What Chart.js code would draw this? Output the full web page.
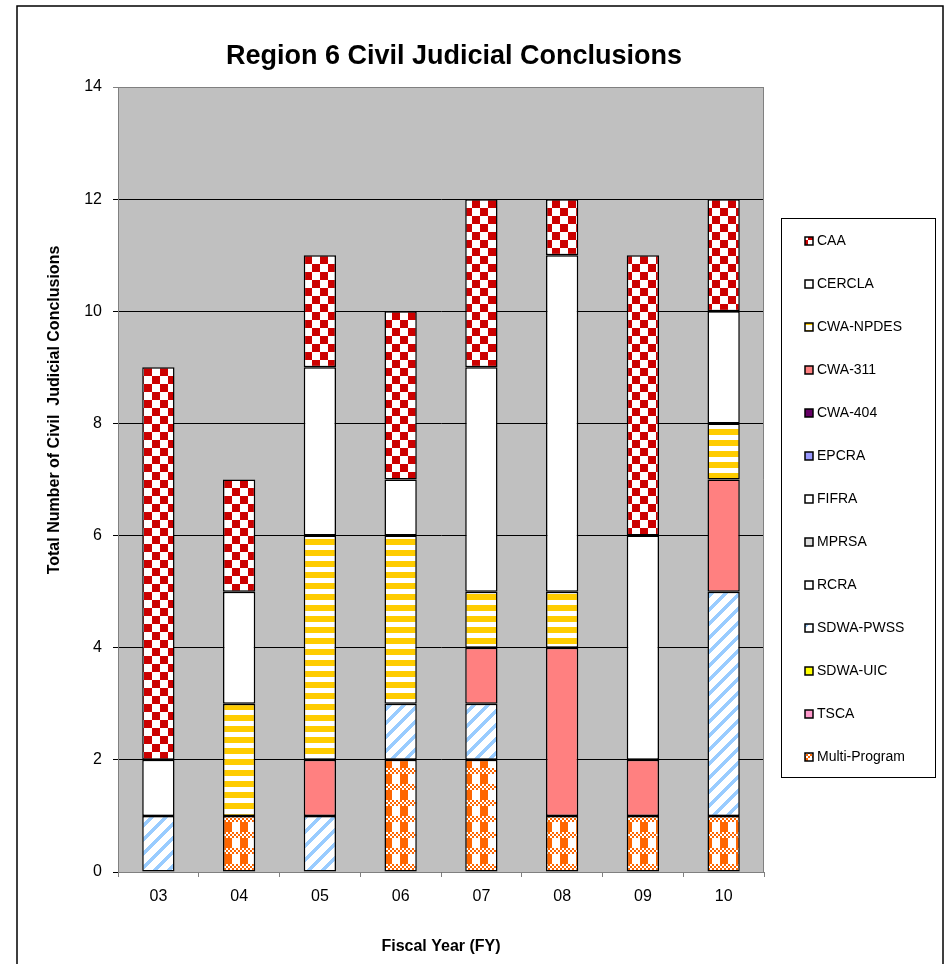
<!DOCTYPE html>
<html>
<head>
<meta charset="utf-8">
<title>Region 6 Civil Judicial Conclusions</title>
<script src="https://cdn.jsdelivr.net/npm/chart.js"></script>
<style>
  body { margin: 0; background: #fff; overflow: hidden; }
  #wrap { position: relative; width: 948px; height: 964px; }
</style>
</head>
<body>
<div id="wrap"><canvas id="civilChart"></canvas></div>
<script>
// fiscal years on the x axis
const years = ["03", "04", "05", "06", "07", "08", "09", "10"];

// counts per program, bottom of the stack first
const multiProgram = [0, 1, 0, 2, 2, 1, 1, 1];
const tsca = [0, 0, 0, 0, 0, 0, 0, 0];
const sdwaUic = [0, 0, 0, 0, 0, 0, 0, 0];
const sdwaPwss = [1, 0, 1, 1, 1, 0, 0, 4];
const rcra = [0, 0, 0, 0, 0, 0, 0, 0];
const mprsa = [0, 0, 0, 0, 0, 0, 0, 0];
const fifra = [0, 0, 0, 0, 0, 0, 0, 0];
const epcra = [0, 0, 0, 0, 0, 0, 0, 0];
const cwa404 = [0, 0, 0, 0, 0, 0, 0, 0];
const cwa311 = [0, 0, 1, 0, 1, 3, 1, 2];
const cwaNpdes = [0, 2, 4, 3, 1, 1, 0, 1];
const cercla = [1, 2, 3, 1, 4, 6, 4, 2];
const caa = [7, 2, 2, 3, 3, 1, 5, 2];

const yTicks = [0, 2, 4, 6, 8, 10, 12, 14];

const FONT = '"Liberation Sans", Arial, sans-serif';
Chart.defaults.font.family = FONT;
Chart.defaults.color = "#000";

const canvas = document.getElementById("civilChart");
const ctx = canvas.getContext("2d");

// small tiles for the excel style fill patterns
function tile(w, h, paint) {
  const c = document.createElement("canvas");
  c.width = w;
  c.height = h;
  const t = c.getContext("2d");
  t.fillStyle = "#fff";
  t.fillRect(0, 0, w, h);
  paint(t);
  return ctx.createPattern(c, "repeat");
}

const checkRed = tile(16, 16, (t) => {
  t.fillStyle = "#CC0000";
  t.fillRect(0, 0, 8, 8);
  t.fillRect(8, 8, 8, 8);
});

const plaidOrange = tile(16, 16, (t) => {
  t.fillStyle = "#FF6600";
  for (let y = 0; y < 6; y += 2) {
    for (let x = 0; x < 16; x += 2) {
      if (((x + y) / 2) % 2 === 0) t.fillRect(x, y, 2, 2);
    }
  }
  t.fillRect(0, 6, 8, 10);
});

const diagBlue = tile(14, 14, (t) => {
  t.fillStyle = "#99CCFF";
  for (let y = 0; y < 14; y++) {
    for (let x = 0; x < 14; x++) {
      if ((x + y) % 14 < 5) t.fillRect(x, y, 1, 1);
    }
  }
});

const stripeYellow = tile(4, 11, (t) => {
  t.fillStyle = "#FFCC00";
  t.fillRect(0, 0, 4, 6);
});

const series = [
  ["Multi-Program", multiProgram, plaidOrange],
  ["TSCA", tsca, "#FF99CC"],
  ["SDWA-UIC", sdwaUic, "#FFFF00"],
  ["SDWA-PWSS", sdwaPwss, diagBlue],
  ["RCRA", rcra, "#FFFFFF"],
  ["MPRSA", mprsa, "#DDDDDD"],
  ["FIFRA", fifra, "#FFFFFF"],
  ["EPCRA", epcra, "#9999FF"],
  ["CWA-404", cwa404, "#660066"],
  ["CWA-311", cwa311, "#FF8080"],
  ["CWA-NPDES", cwaNpdes, stripeYellow],
  ["CERCLA", cercla, "#FFFFFF"],
  ["CAA", caa, checkRed],
];

const datasets = series.map(([label, data, fill]) => ({
  label: label,
  data: data,
  backgroundColor: fill,
  borderColor: "#000",
  borderWidth: 1.5,
  borderSkipped: false,
  barPercentage: 0.4,
  categoryPercentage: 1,
}));

// page frame, plot background, titles and boxed legend
const frame = {
  id: "frame",
  beforeDraw(chart) {
    const c = chart.ctx;
    const a = chart.chartArea;
    c.save();
    c.fillStyle = "#fff";
    c.fillRect(0, 0, chart.width, chart.height);
    c.fillStyle = "#C0C0C0";
    c.fillRect(a.left, a.top, a.right - a.left, a.bottom - a.top);
    c.restore();
  },
  beforeDatasetsDraw(chart) {
    const c = chart.ctx;
    const a = chart.chartArea;
    c.save();
    c.strokeStyle = "#808080";
    c.lineWidth = 1;
    c.beginPath();
    c.moveTo(a.left, a.top + 0.5);
    c.lineTo(a.right - 0.5, a.top + 0.5);
    c.lineTo(a.right - 0.5, a.bottom);
    c.stroke();
    c.restore();
  },
  afterDraw(chart) {
    const c = chart.ctx;
    c.save();
    c.strokeStyle = "#000";
    c.lineWidth = 1.5;
    c.strokeRect(17, 6, 926, 980);

    c.fillStyle = "#000";
    c.font = "bold 27px " + FONT;
    c.textAlign = "center";
    c.textBaseline = "alphabetic";
    c.fillText("Region 6 Civil Judicial Conclusions", 454, 64);

    // y axis title sits above the middle of the axis, as in the original
    c.save();
    c.translate(55, 410);
    c.rotate(-Math.PI / 2);
    c.font = "bold 16px " + FONT;
    c.textBaseline = "middle";
    c.fillText("Total Number of Civil  Judicial Conclusions", 0, 0);
    c.restore();

    c.lineWidth = 1;
    c.strokeRect(781.5, 218.5, 154, 559);
    c.font = "14px " + FONT;
    c.textAlign = "left";
    c.textBaseline = "middle";
    const list = chart.data.datasets.slice().reverse();
    list.forEach((ds, i) => {
      const y = 241 + i * 43;
      c.fillStyle = ds.backgroundColor;
      c.fillRect(805, y - 4, 8, 8);
      c.lineWidth = 1.5;
      c.strokeStyle = "#000";
      c.strokeRect(805, y - 4, 8, 8);
      c.fillStyle = "#000";
      c.fillText(ds.label, 817, y);
    });
    c.restore();
  },
};

new Chart(ctx, {
  type: "bar",
  data: { labels: years, datasets: datasets },
  options: {
    responsive: true,
    maintainAspectRatio: false,
    animation: false,
    layout: { padding: { top: 87, right: 184, left: 0, bottom: 0 } },
    plugins: {
      legend: { display: false },
      title: { display: false },
      tooltip: { enabled: false },
    },
    scales: {
      x: {
        stacked: true,
        afterFit(scale) {
          scale.height = 92;
        },
        grid: {
          offset: true,
          drawOnChartArea: false,
          tickLength: 5,
          color: "#808080",
        },
        border: { color: "#808080" },
        ticks: { font: { size: 16 }, padding: 10 },
        title: {
          display: true,
          text: "Fiscal Year (FY)",
          font: { size: 16, weight: "bold" },
          padding: { top: 0, bottom: 8 },
        },
      },
      y: {
        stacked: true,
        min: 0,
        max: 14,
        afterFit(scale) {
          scale.width = 118;
        },
        afterBuildTicks(scale) {
          scale.ticks = yTicks.map((v) => ({ value: v }));
        },
        grid: {
          color: (c) => (c.tick && c.tick.value === 14 ? "#808080" : "#000"),
          tickLength: 5,
        },
        border: { color: "#808080" },
        ticks: { font: { size: 16 }, padding: 11 },
        title: { display: false },
      },
    },
  },
  plugins: [frame],
});
</script>
</body>
</html>
